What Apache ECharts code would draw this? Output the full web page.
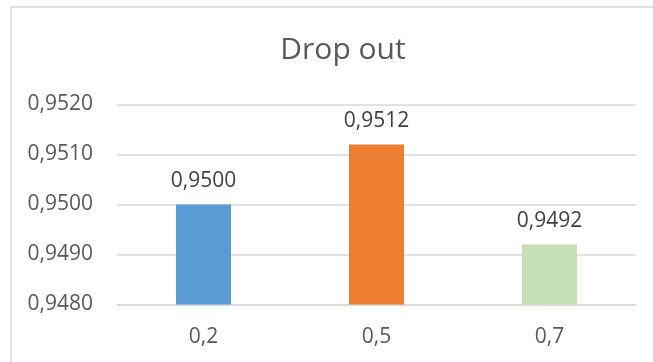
<!DOCTYPE html>
<html>
<head>
<meta charset="utf-8">
<script src="https://cdn.jsdelivr.net/npm/echarts@6/dist/echarts.min.js"></script>
<style>
  html, body { margin: 0; padding: 0; background: #fff; }
  #chart { width: 653px; height: 362px; }
</style>
</head>
<body>
<div id="chart"></div>
<script>
// data
const categories = ['0,2', '0,5', '0,7'];
const values = [0.9500, 0.9512, 0.9492];
const barColors = ['#5B9BD5', '#ED7D31', '#C5E0B4'];
const yMin = 0.948;
const yMax = 0.952;
const yStep = 0.001;

const fmt = (v) => Number(v).toFixed(4).replace('.', ',');

const chart = echarts.init(document.getElementById('chart'));

const option = {
  animation: false,
  backgroundColor: '#fff',
  // outer frame of the excel chart
  graphic: [
    {
      type: 'rect',
      shape: { x: 11, y: 7, width: 700, height: 420 },
      style: { fill: 'none', stroke: '#d9d9d9', lineWidth: 1.5 },
      silent: true,
    },
  ],
  title: {
    text: 'Drop out',
    left: 338,
    top: 30,
    textAlign: 'center',
    textStyle: {
      fontFamily: 'Open Sans',
      fontWeight: 'normal',
      fontSize: 30,
      color: '#595959',
    },
  },
  grid: {
    left: 117,
    right: 17,
    top: 104.5,
    bottom: 57.5,
  },
  xAxis: {
    type: 'category',
    data: categories,
    axisTick: { show: false },
    axisLine: { lineStyle: { color: '#d9d9d9', width: 1.5 } },
    axisLabel: {
      margin: 22,
      fontFamily: 'Open Sans',
      fontSize: 21,
      color: '#595959',
    },
  },
  yAxis: {
    type: 'value',
    min: yMin,
    max: yMax,
    interval: yStep,
    axisLine: { show: false },
    axisTick: { show: false },
    splitLine: { lineStyle: { color: '#d9d9d9', width: 1.5 } },
    axisLabel: {
      margin: 24,
      formatter: fmt,
      fontFamily: 'Open Sans',
      fontSize: 21,
      color: '#595959',
    },
  },
  series: [
    {
      type: 'bar',
      barWidth: 55,
      data: values.map((v, i) => ({
        value: v,
        itemStyle: { color: barColors[i] },
      })),
      label: {
        show: true,
        position: 'top',
        distance: 13,
        formatter: (p) => fmt(p.value),
        fontFamily: 'Open Sans',
        fontSize: 21,
        color: '#404040',
      },
    },
  ],
};

chart.setOption(option);
</script>
</body>
</html>
